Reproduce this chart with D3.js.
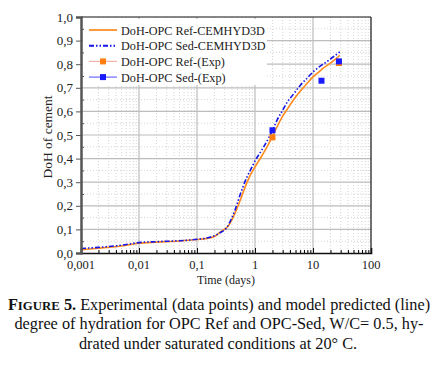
<!DOCTYPE html>
<html>
<head>
<meta charset="utf-8">
<script src="https://cdn.jsdelivr.net/npm/d3@7"></script>
<style>
body{margin:0;background:#fff;}
svg text{font-family:"Liberation Serif","Times New Roman",serif !important;}
</style>
</head>
<body>
<div id="plot"></div>
<script>
// model curves (time in days, degree of hydration)
var refDays = [0.001,0.002,0.005,0.01,0.02,0.05,0.1,0.15,0.2,0.27,0.34,0.4,0.45,0.5,0.55,0.62,0.72,0.85,1,1.3,1.7,2,2.4,3,3.5,4.5,6,8,10,13,15,20,25,29];
var refDoH  = [0.014,0.02,0.03,0.041,0.046,0.051,0.057,0.062,0.07,0.094,0.112,0.14,0.168,0.195,0.22,0.255,0.296,0.335,0.365,0.41,0.46,0.495,0.535,0.58,0.605,0.645,0.685,0.72,0.746,0.77,0.783,0.805,0.824,0.838];

var sedDays = [0.001,0.002,0.005,0.01,0.02,0.05,0.1,0.15,0.2,0.25,0.32,0.4,0.45,0.48,0.55,0.62,0.72,0.85,1,1.3,1.7,2,2.4,3,3.5,4.5,6,8,10,13,15,20,25,29];
var sedDoH  = [0.019,0.024,0.033,0.044,0.048,0.052,0.058,0.064,0.073,0.086,0.105,0.15,0.18,0.20,0.245,0.28,0.32,0.355,0.39,0.435,0.485,0.52,0.563,0.605,0.635,0.67,0.71,0.742,0.767,0.79,0.80,0.822,0.84,0.852];

// experimental points
var refExpDays = [2,28];
var refExpDoH  = [0.49,0.805];
var sedExpDays = [2,14,28];
var sedExpDoH  = [0.52,0.73,0.812];

var xTickVals = [0.001,0.01,0.1,1,10,100];
var xTickLabels = ["0,001","0,01","0,1","1","10","100"];
var yTickVals = [0,0.1,0.2,0.3,0.4,0.5,0.6,0.7,0.8,0.9,1.0];

var legendNames = ["DoH-OPC Ref-CEMHYD3D","DoH-OPC Sed-CEMHYD3D","DoH-OPC Ref-(Exp)","DoH-OPC Sed-(Exp)"];

var serif = "Liberation Serif, serif";

var margin = {t:17,r:73,b:117,l:81};
var width = 444 - margin.l - margin.r,
    height = 370 - margin.t - margin.b;

var svg = d3.select("#plot").append("svg")
    .attr("width",444)
    .attr("height",370)
    .attr("font-family",serif);

var plot = svg.append("g")
    .attr("transform","translate("+margin.l+","+margin.t+")");

var x = d3.scaleLog().domain([0.001,100]).range([0,width]);
var y = d3.scaleLinear().domain([0,1]).range([height,0]);

// minor vertical grid
var minorX = [];
for (var p=-3;p<2;p++){
    for (var k=2;k<10;k++){ minorX.push(k*Math.pow(10,p)); }
}
plot.selectAll(".vminor").data(minorX).enter().append("line")
    .attr("x1",function(d){return x(d);}).attr("x2",function(d){return x(d);})
    .attr("y1",0).attr("y2",height)
    .attr("stroke","#d6d6d6").attr("stroke-dasharray","1,2");

// minor horizontal grid
var minorY = d3.range(0.05,1,0.1);
plot.selectAll(".hminor").data(minorY).enter().append("line")
    .attr("x1",0).attr("x2",width)
    .attr("y1",function(d){return y(d);}).attr("y2",function(d){return y(d);})
    .attr("stroke","#d6d6d6").attr("stroke-dasharray","1,2");

// major grid
plot.selectAll(".vmajor").data(xTickVals.slice(1,5)).enter().append("line")
    .attr("x1",function(d){return x(d);}).attr("x2",function(d){return x(d);})
    .attr("y1",0).attr("y2",height)
    .attr("stroke","#bdbdbd").attr("stroke-width",1.2);
plot.selectAll(".hmajor").data(yTickVals.slice(1,10)).enter().append("line")
    .attr("x1",0).attr("x2",width)
    .attr("y1",function(d){return y(d);}).attr("y2",function(d){return y(d);})
    .attr("stroke","#bdbdbd").attr("stroke-width",1.2);

// model lines
var line = d3.line()
    .x(function(d){return x(d[0]);})
    .y(function(d){return y(d[1]);})
    .curve(d3.curveMonotoneX);

plot.append("path")
    .datum(d3.zip(refDays,refDoH))
    .attr("d",line)
    .attr("fill","none")
    .attr("stroke","#ff8a1e")
    .attr("stroke-width",1.6);

plot.append("path")
    .datum(d3.zip(sedDays,sedDoH))
    .attr("d",line)
    .attr("fill","none")
    .attr("stroke","#1515e6")
    .attr("stroke-width",1.6)
    .attr("stroke-dasharray","5,2,1.5,2,1.5,2");

// experimental squares
plot.selectAll(".refexp").data(d3.zip(refExpDays,refExpDoH)).enter().append("rect")
    .attr("x",function(d){return x(d[0])-3;})
    .attr("y",function(d){return y(d[1])-3;})
    .attr("width",6).attr("height",6)
    .attr("fill","#ff7f10");
plot.selectAll(".sedexp").data(d3.zip(sedExpDays,sedExpDoH)).enter().append("rect")
    .attr("x",function(d){return x(d[0])-3;})
    .attr("y",function(d){return y(d[1])-3;})
    .attr("width",6).attr("height",6)
    .attr("fill","#1a1aff");

// legend with white background
var legend = plot.append("g").attr("transform","translate(2,2)");
legend.append("rect")
    .attr("x",0).attr("y",0)
    .attr("width",184).attr("height",66)
    .attr("fill","#fff");

var legItems = legend.selectAll(".leg").data(legendNames).enter().append("g")
    .attr("transform",function(d,i){return "translate(6,"+(11+i*15.7)+")";});

legItems.append("line")
    .attr("x1",0).attr("x2",28).attr("y1",0).attr("y2",0)
    .attr("stroke",function(d,i){return ["#ff9a40","#1515e6","#f5b0a8","#6a6aff"][i];})
    .attr("stroke-width",function(d,i){return i<2?2:1.2;})
    .attr("stroke-dasharray",function(d,i){return i==1?"5,2,1.5,2,1.5,2":null;});

legItems.filter(function(d,i){return i>=2;}).append("rect")
    .attr("x",11).attr("y",-3).attr("width",6).attr("height",6)
    .attr("fill",function(d,i){return i==0?"#ff7f10":"#1a1aff";});

legItems.append("text")
    .attr("x",32).attr("y",4.5)
    .attr("font-size","12.2px")
    .attr("fill","#222")
    .text(function(d){return d;});

// frame: top and right
plot.append("line").attr("x1",0).attr("x2",width).attr("y1",0).attr("y2",0).attr("stroke","#111").attr("stroke-width",1.2);
plot.append("line").attr("x1",width).attr("x2",width).attr("y1",0).attr("y2",height).attr("stroke","#111").attr("stroke-width",1.2);

// x axis (ticks pointing inward)
var xAxis = plot.append("g")
    .attr("transform","translate(0,"+height+")")
    .call(d3.axisTop(x).tickValues(xTickVals).tickSize(5).tickFormat(""));
xAxis.select(".domain").attr("stroke","#111").attr("stroke-width",1.6);
xAxis.selectAll(".tick line").attr("stroke","#111");
plot.append("g")
    .attr("transform","translate(0,"+height+")")
    .call(d3.axisTop(x).tickValues(minorX).tickSize(3).tickFormat(""))
    .call(function(g){g.select(".domain").remove();});

plot.selectAll(".xlab").data(xTickVals).enter().append("text")
    .attr("x",function(d){return x(d);})
    .attr("y",height+16)
    .attr("text-anchor","middle")
    .attr("font-size","12.5px")
    .attr("fill","#222")
    .text(function(d,i){return xTickLabels[i];});

// y axis (major ticks outward, minor inward)
var yAxis = plot.append("g")
    .call(d3.axisLeft(y).tickValues(yTickVals).tickSize(5).tickPadding(3)
        .tickFormat(function(d){return d3.format(".1f")(d).replace(".",",");}));
yAxis.attr("font-family",serif);
yAxis.select(".domain").attr("stroke","#555").attr("stroke-width",2.5);
yAxis.selectAll(".tick line").attr("stroke","#555");
yAxis.selectAll("text")
    .attr("font-size","13px")
    .attr("fill","#222");
plot.append("g")
    .call(d3.axisRight(y).tickValues(minorY).tickSize(3).tickFormat(""))
    .call(function(g){g.select(".domain").remove();})
    .selectAll("line").attr("stroke","#555");

// axis titles
svg.append("text")
    .attr("x",margin.l+width/2)
    .attr("y",284)
    .attr("text-anchor","middle")
    .attr("font-size","12px")
    .attr("fill","#222")
    .text("Time (days)");

svg.append("text")
    .attr("transform","translate(52,137) rotate(-90)")
    .attr("text-anchor","middle")
    .attr("font-size","13.5px")
    .attr("fill","#222")
    .text("DoH of cement");

// caption
var caption = svg.append("text")
    .attr("text-anchor","middle")
    .attr("font-size","16.3px")
    .attr("fill","#111");
var l1 = caption.append("tspan").attr("x",219).attr("y",310);
l1.append("tspan").attr("font-weight","bold").text("F");
l1.append("tspan").attr("font-weight","bold").attr("font-size","12.8px").text("IGURE");
l1.append("tspan").attr("font-weight","bold").text(" 5.");
l1.append("tspan").text(" Experimental (data points) and model predicted (line)");
caption.append("tspan").attr("x",219).attr("y",329)
    .text("degree of hydration for OPC Ref and OPC-Sed, W/C= 0.5, hy-");
caption.append("tspan").attr("x",218).attr("y",349)
    .text("drated under saturated conditions at 20° C.");
</script>
</body>
</html>
